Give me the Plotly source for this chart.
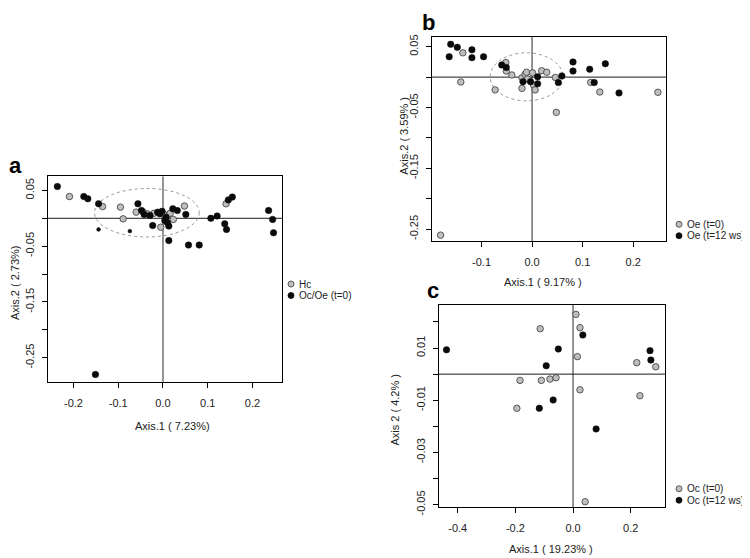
import plotly.graph_objects as go

# ---------------- Panel a data ----------------
a_hc_x = [-0.209, -0.135, -0.095, -0.089, -0.060, -0.044, -0.035, -0.020, 0.002, -0.005,
          0.016, 0.023, 0.048, 0.141]
a_hc_y = [0.039, 0.021, 0.020, -0.001, 0.011, 0.011, 0.008, 0.009, 0.007, -0.016,
          0.009, -0.002, 0.022, 0.026]
a_oc_x = [-0.236, -0.177, -0.168, -0.144, -0.056, -0.048, -0.042, -0.029, -0.023, -0.012,
          -0.007, -0.002, 0.007, 0.004, 0.010, 0.013, 0.022, 0.032, 0.051, 0.013,
          0.057, 0.081, 0.107, 0.121, 0.138, 0.142, 0.146, 0.155, 0.236, 0.245,
          0.247, -0.151]
a_oc_y = [0.057, 0.039, 0.035, 0.026, 0.026, 0.014, 0.007, 0.005, -0.013, 0.011,
          0.008, 0.0125, 0.002, -0.004, -0.008, -0.014, 0.017, 0.014, 0.007, -0.040,
          -0.048, -0.048, 0.000, 0.004, -0.010, -0.020, 0.033, 0.038, 0.014, -0.002,
          -0.026, -0.280]
a_small_x = [-0.144, -0.074]
a_small_y = [-0.020, -0.023]

# ---------------- Panel b data ----------------
b_t0_x = [-0.137, -0.141, -0.073, -0.052, -0.051, -0.040, -0.020, -0.020, -0.014, -0.011,
          -0.009, 0.001, 0.003, 0.006, 0.019, 0.029, 0.046, 0.048, 0.116, 0.134,
          0.249, -0.181]
b_t0_y = [0.040, -0.008, -0.021, 0.024, 0.010, 0.0035, -0.001, -0.0185, 0.0045, 0.008,
          -0.003, 0.007, -0.013, -0.021, 0.0105, 0.008, -0.0005, -0.058, -0.0087, -0.0245,
          -0.025, -0.260]
b_t12_x = [-0.161, -0.148, -0.119, -0.164, -0.119, -0.096, -0.060, -0.051, -0.018, -0.003,
           0.011, 0.011, 0.052, 0.059, 0.081, 0.081, 0.114, 0.123, 0.145, 0.172]
b_t12_y = [0.054, 0.049, 0.045, 0.0335, 0.032, 0.0335, 0.020, 0.016, -0.0075, -0.0075,
           0.0005, -0.011, -0.009, 0.002, 0.025, 0.010, 0.013, -0.009, 0.022, -0.026]

# ---------------- Panel c data ----------------
c_t0_x = [-0.114, 0.024, 0.015, 0.221, 0.287, -0.184, -0.110, -0.080, -0.059, 0.024,
          0.232, -0.195, 0.042, 0.010]
c_t0_y = [0.0174, 0.0178, 0.0067, 0.0044, 0.0028, -0.0024, -0.0024, -0.0019, -0.0014, -0.006,
          -0.0083, -0.0131, -0.0489, 0.0229]
c_t12_x = [-0.439, -0.051, -0.093, 0.034, 0.267, 0.270, -0.069, -0.117, 0.080]
c_t12_y = [0.0093, 0.0096, 0.0032, 0.015, 0.009, 0.0054, -0.0099, -0.0131, -0.021]

# ellipses (center x, center y, half-width, half-height)
a_ell = [-0.036, 0.010, 0.117, 0.0435]
b_ell = [-0.011, 0.0005, 0.072, 0.0395]

# ticks
a_xt = [-0.2, -0.1, 0.0, 0.1, 0.2]
a_xl = ["-0.2", "-0.1", "0.0", "0.1", "0.2"]
a_yt = [0.05, 0.0, -0.05, -0.1, -0.15, -0.2, -0.25]
a_yl = ["0.05", "", "-0.05", "", "-0.15", "", "-0.25"]
b_xt = [-0.1, 0.0, 0.1, 0.2]
b_xl = ["-0.1", "0.0", "0.1", "0.2"]
b_yt = [0.05, 0.0, -0.05, -0.1, -0.15, -0.2, -0.25]
b_yl = ["0.05", "", "-0.05", "", "-0.15", "", "-0.25"]
c_xt = [-0.4, -0.2, 0.0, 0.2]
c_xl = ["-0.4", "-0.2", "0.0", "0.2"]
c_yt = [0.02, 0.01, 0.0, -0.01, -0.02, -0.03, -0.04, -0.05]
c_yl = ["", "0.01", "", "-0.01", "", "-0.03", "", "-0.05"]

FONT = "Liberation Sans, Arial, Helvetica, sans-serif"
GRAY = "#bebebe"
BLACK = "#0a0a0a"
W, H = 750, 558
OFF = 8          # default page body margin of the html page
SY = 566 / 558   # vertical compensation observed in the photographed page

fig = go.Figure()

def gray_marker(size=6.5):
    return dict(size=size, color=GRAY, line=dict(color="#3a3a3a", width=0.8))

def black_marker(size=6.5):
    return dict(size=size, color=BLACK, line=dict(color=BLACK, width=0.5))

fig.add_trace(go.Scatter(x=a_hc_x, y=a_hc_y, mode="markers", marker=gray_marker(),
                         name="Hc", xaxis="x", yaxis="y", showlegend=False))
fig.add_trace(go.Scatter(x=a_oc_x, y=a_oc_y, mode="markers", marker=black_marker(),
                         name="Oc/Oe (t=0)", xaxis="x", yaxis="y", showlegend=False))
fig.add_trace(go.Scatter(x=a_small_x, y=a_small_y, mode="markers", marker=black_marker(3.8),
                         name="Oc/Oe (t=0)", xaxis="x", yaxis="y", showlegend=False))
fig.add_trace(go.Scatter(x=b_t0_x, y=b_t0_y, mode="markers", marker=gray_marker(),
                         name="Oe (t=0)", xaxis="x2", yaxis="y2", showlegend=False))
fig.add_trace(go.Scatter(x=b_t12_x, y=b_t12_y, mode="markers", marker=black_marker(),
                         name="Oe (t=12 ws)", xaxis="x2", yaxis="y2", showlegend=False))
fig.add_trace(go.Scatter(x=c_t0_x, y=c_t0_y, mode="markers", marker=gray_marker(),
                         name="Oc (t=0)", xaxis="x3", yaxis="y3", showlegend=False))
fig.add_trace(go.Scatter(x=c_t12_x, y=c_t12_y, mode="markers", marker=black_marker(),
                         name="Oc (t=12 ws)", xaxis="x3", yaxis="y3", showlegend=False))

def px_x(p):
    return (p - OFF) / W

def px_y(p):
    return 1 - (p * SY - OFF) / H

def xaxis(dom, rng, tv, tt, anchor):
    return dict(domain=dom, range=rng, tickvals=tv, ticktext=tt, anchor=anchor,
                showgrid=False, zeroline=False, showline=True, mirror=True,
                linecolor="black", linewidth=1, ticks="outside", ticklen=5,
                tickcolor="black", tickfont=dict(family=FONT, size=11, color="#222"),
                ticklabelstandoff=6)

def yaxis(dom, rng, tv, tt, anchor):
    return dict(domain=dom, range=rng, tickvals=tv, ticktext=tt, anchor=anchor,
                showgrid=False, zeroline=False, showline=True, mirror=True,
                linecolor="black", linewidth=1, ticks="outside", ticklen=5,
                tickcolor="black", tickangle=-90,
                tickfont=dict(family=FONT, size=11, color="#222"),
                ticklabelstandoff=4)

fig.update_layout(
    width=W, height=H, margin=dict(l=0, r=0, t=0, b=0),
    paper_bgcolor="white", plot_bgcolor="white", showlegend=False,
    xaxis=xaxis([px_x(48), px_x(282)], [-0.257, 0.266], a_xt, a_xl, "y"),
    yaxis=yaxis([px_y(381), px_y(175)], [-0.293, 0.075], a_yt, a_yl, "x"),
    xaxis2=xaxis([px_x(432), px_x(666)], [-0.198, 0.265], b_xt, b_xl, "y2"),
    yaxis2=yaxis([px_y(240), px_y(35)], [-0.270, 0.066], b_yt, b_yl, "x2"),
    xaxis3=xaxis([px_x(439), px_x(665)], [-0.465, 0.319], c_xt, c_xl, "y3"),
    yaxis3=yaxis([px_y(507), px_y(304)], [-0.051, 0.0265], c_yt, c_yl, "x3"),
)

shapes = []
for xr, yr in [("x", "y"), ("x2", "y2"), ("x3", "y3")]:
    shapes.append(dict(type="line", xref=xr, yref=yr + " domain", x0=0, x1=0, y0=0, y1=1,
                       line=dict(color="#7a7a7a", width=1.6), layer="below"))
    shapes.append(dict(type="line", xref=xr + " domain", yref=yr, x0=0, x1=1, y0=0, y1=0,
                       line=dict(color="#1a1a1a", width=1), layer="below"))
for (cx, cy, rx, ry), xr, yr in [(a_ell, "x", "y"), (b_ell, "x2", "y2")]:
    shapes.append(dict(type="circle", xref=xr, yref=yr, x0=cx - rx, x1=cx + rx,
                       y0=cy - ry, y1=cy + ry, line=dict(color="#8a8a8a", width=0.9, dash="dot"),
                       layer="below"))

# legend markers (pixel-sized circles in paper space)
legend_items = [
    (291, 283, GRAY, "Hc"), (291, 294.5, BLACK, "Oc/Oe (t=0)"),
    (679, 223, GRAY, "Oe (t=0)"), (679, 234.5, BLACK, "Oe (t=12 ws)"),
    (679, 488.5, GRAY, "Oc (t=0)"), (679, 500, BLACK, "Oc (t=12 ws)"),
]
annotations = []
for lx, ly, col, txt in legend_items:
    lc = "#3a3a3a" if col == GRAY else BLACK
    shapes.append(dict(type="circle", xref="paper", yref="paper",
                       xsizemode="pixel", ysizemode="pixel",
                       xanchor=px_x(lx), yanchor=px_y(ly), x0=-3, x1=3, y0=-3, y1=3,
                       fillcolor=col, line=dict(color=lc, width=0.8)))
    annotations.append(dict(text=txt, xref="paper", yref="paper", x=px_x(lx + 6), y=px_y(ly),
                            xanchor="left", yanchor="middle", showarrow=False,
                            font=dict(family=FONT, size=10, color="#222")))

# axis titles
titles = [
    ("Axis.1 ( 7.23%)", 172, 425, 0),
    ("Axis.2 ( 2.73%)", 15, 282, -90),
    ("Axis.1 ( 9.17% )", 543, 281, 0),
    ("Axis.2 ( 3.59% )", 404, 134, -90),
    ("Axis.1 ( 19.23% )", 551, 549, 0),
    ("Axis 2 ( 4.2% )", 395, 409, -90),
]
for txt, tx, ty, ang in titles:
    annotations.append(dict(text=txt, xref="paper", yref="paper", x=px_x(tx), y=px_y(ty),
                            xanchor="center", yanchor="middle", showarrow=False, textangle=ang,
                            font=dict(family=FONT, size=11, color="#222")))

# panel letters
for txt, tx, ty in [("a", 15, 164), ("b", 428, 20), ("c", 433, 289)]:
    annotations.append(dict(text="<b>" + txt + "</b>", xref="paper", yref="paper",
                            x=px_x(tx), y=px_y(ty), xanchor="center", yanchor="middle",
                            showarrow=False, font=dict(family=FONT, size=22, color="black")))

fig.update_layout(shapes=shapes, annotations=annotations)
fig.write_html("out.html")
